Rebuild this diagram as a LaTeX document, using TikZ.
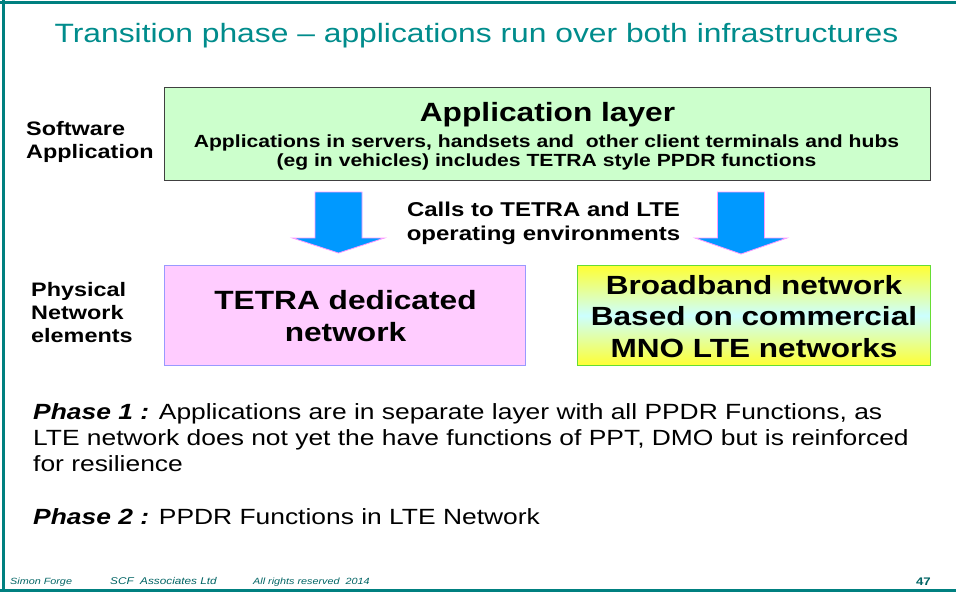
\documentclass[tikz,border=0pt]{standalone}
\usepackage{fontspec}
\setmainfont[FakeStretch=1.2]{Liberation Sans}
\usetikzlibrary{calc}
\definecolor{frameteal}{RGB}{0,128,128}
\definecolor{titleteal}{RGB}{0,140,140}
\definecolor{footteal}{RGB}{0,100,100}
\definecolor{appgreen}{RGB}{204,255,204}
\definecolor{tetrapink}{RGB}{255,204,255}
\definecolor{tetraedge}{RGB}{153,153,255}
\definecolor{bbyellow}{RGB}{255,255,51}
\definecolor{bbcyan}{RGB}{204,255,255}
\definecolor{bbedge}{RGB}{102,221,51}
\definecolor{arrowblue}{RGB}{0,153,255}
\definecolor{arrowedge}{RGB}{255,153,255}
\tikzset{
  lbl/.style={font=\bfseries\fontsize{19.5}{23}\selectfont, align=left, anchor=base west, inner sep=0pt},
  bodytxt/.style={font=\fontsize{22}{26}\selectfont, anchor=base west, inner sep=0pt},
  foot/.style={font=\itshape\fontsize{9}{10}\selectfont, text=footteal, anchor=base west, inner sep=0pt},
  downarrow/.style={fill=arrowblue, draw=arrowedge, line width=0.8pt, line join=miter}
}
\newcommand{\blockarrow}[2]{% #1 = top-centre coordinate name, #2 = tip coordinate name
  \path[downarrow] ($(#1)+(-23.5,0)$) -- ($(#1)+(23.5,0)$) -- ($(#1)+(23.5,46)$)
    -- ($(#1)+(46,46)$) -- (#2) -- ($(#1)+(-46,46)$) -- ($(#1)+(-23.5,46)$) -- cycle;}
\begin{document}
\begin{tikzpicture}[x=1pt,y=-1pt]
\useasboundingbox (0,0) rectangle (956,592);
\fill[white] (0,0) rectangle (956,592);
% slide frame
\draw[frameteal, line width=3pt] (0,2) -- (956,2);
\draw[frameteal, line width=3pt] (3,0) -- (3,592);
\draw[frameteal, line width=3pt] (0,590.5) -- (956,590.5);

% title
\node[font=\fontsize{26.5}{30}\selectfont, text=titleteal, anchor=base, inner sep=0pt]
  (title) at (476.5,42) {Transition phase – applications run over both infrastructures};

% row labels
\node[lbl] (swlbl) at (26,158) {Software\\Application};
\node[lbl] (physlbl) at (31,342) {Physical\\Network\\elements};

% application layer box
\node[draw=black!75, fill=appgreen, line width=0.8pt, minimum width=766pt, minimum height=93pt,
  anchor=north west, inner sep=0pt] (app) at (164,87) {};
\node[font=\bfseries\fontsize{26.4}{28}\selectfont, anchor=base, inner sep=0pt] (apptitle)
  at (547.5,121) {Application layer};
\node[font=\bfseries\fontsize{17.6}{19}\selectfont, align=center, anchor=base, inner sep=0pt]
  (appsub) at (546.5,166) {Applications in servers, handsets and\ \ other client terminals and hubs\\(eg in vehicles) includes TETRA style PPDR functions};

% network boxes
\node[draw=tetraedge, fill=tetrapink, line width=0.8pt, minimum width=361pt, minimum height=100pt,
  anchor=north west, inner sep=0pt] (tetra) at (164,265) {};
\node[font=\bfseries\fontsize{26.4}{31.5}\selectfont, align=center, anchor=base, inner sep=0pt]
  (tetratxt) at (345.5,341) {TETRA dedicated\\network};
\node[draw=bbedge, line width=0.8pt, minimum width=353pt, minimum height=100pt,
  anchor=north west, inner sep=0pt,
  top color=bbyellow, bottom color=bbyellow, middle color=bbcyan] (bb) at (577,265) {};
\node[font=\bfseries\fontsize{26.3}{31.5}\selectfont, align=center, anchor=base, inner sep=0pt]
  (bbtxt) at (754,357) {Broadband network\\Based on commercial\\MNO LTE networks};

% block arrows between the layers
\coordinate (la) at (338.5,192);
\coordinate (lt) at (338.5,253);
\coordinate (ra) at (741,192);
\coordinate (rt) at (741,254);
\blockarrow{la}{lt}
\blockarrow{ra}{rt}

\node[lbl, align=center, anchor=base, font=\bfseries\fontsize{20}{24}\selectfont] (calls) at (543.5,240)
  {Calls to TETRA and LTE\\operating environments};

% phase notes
\node[bodytxt] (ph1a) at (33,419) {\textbf{\textit{Phase 1 :}} Applications are in separate layer with all PPDR Functions, as};
\node[bodytxt] (ph1b) at (33,445) {LTE network does not yet the have functions of PPT, DMO but is reinforced};
\node[bodytxt] (ph1c) at (33,471) {for resilience};
\node[bodytxt] (ph2) at (33,524) {\textbf{\textit{Phase 2 :}} PPDR Functions in LTE Network};

% footer
\node[foot] (author) at (10,584) {Simon Forge};
\node[foot, font=\itshape\fontsize{9.8}{12}\selectfont] (company) at (110,584) {SCF\ \ Associates Ltd};
\node[foot] (rights) at (253,584) {All rights reserved\ \ 2014};
\node[font=\bfseries\fontsize{11}{13}\selectfont, text=footteal, anchor=base east, inner sep=0pt]
  (page) at (931,585) {47};
\end{tikzpicture}
\end{document}
